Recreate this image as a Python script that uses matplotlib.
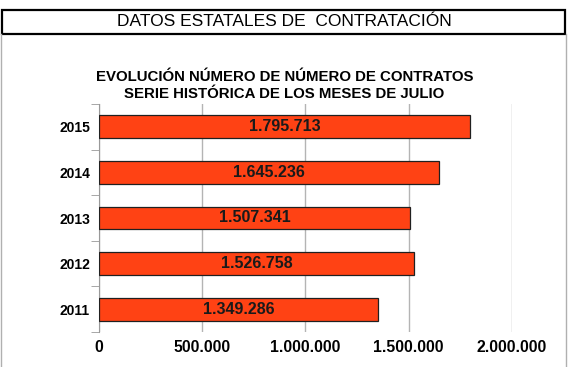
import numpy as np
import matplotlib.pyplot as plt
from matplotlib.patches import Rectangle
from matplotlib.lines import Line2D

# data
years = ["2011", "2012", "2013", "2014", "2015"]
contratos = [1349286, 1526758, 1507341, 1645236, 1795713]
xticks = [0, 500000, 1000000, 1500000, 2000000]


def fmt(v):
    return "{:,}".format(v).replace(",", ".")


fig = plt.figure(figsize=(5.69, 3.67), dpi=100)
W, H = 569., 367.

# header box
fig.patches.append(Rectangle((2 / W, 1 - 34 / H), 563 / W, 24 / H, transform=fig.transFigure,
                             fill=False, edgecolor="black", linewidth=1.6))
fig.text(0.5, 1 - 22 / H, "DATOS ESTATALES DE  CONTRATACIÓN", ha="center", va="center",
         fontsize=12.5, family="Liberation Sans")
# side borders
for x in (0.8 / W, 566 / W):
    fig.lines.append(Line2D([x, x], [0, 1 - 34 / H], transform=fig.transFigure,
                            color="#b0b0b0", linewidth=1))

fig.text(0.5, 1 - 77 / H, "EVOLUCIÓN NÚMERO DE NÚMERO DE CONTRATOS", ha="center", va="center",
         fontsize=10.8, fontweight="bold", family="Liberation Sans")
fig.text(0.5, 1 - 94 / H, "SERIE HISTÓRICA DE LOS MESES DE JULIO", ha="center", va="center",
         fontsize=10.8, fontweight="bold", family="Liberation Sans")

ax = fig.add_axes([99 / W, 35 / H, 413 / W, 228 / H])
y = np.arange(len(years))
ax.barh(y, contratos, height=0.5, color="#ff4214", edgecolor="#202020", linewidth=0.9, zorder=3)
for yi, v in zip(y, contratos):
    ax.text(v / 2, yi, fmt(v), ha="center", va="center", fontsize=11.5, fontweight="bold",
            color="#1a1a1a", family="Liberation Sans", zorder=4)

ax.set_xlim(0, 2000000)
ax.set_ylim(-0.5, len(years) - 0.5)
ax.set_xticks(xticks)
ax.set_xticklabels([fmt(v) for v in xticks], fontsize=11.3, fontweight="bold", family="Liberation Sans")
ax.set_yticks(y)
ax.set_yticklabels(years, fontsize=10, fontweight="bold", family="Liberation Sans")
ax.set_yticks(np.arange(-0.5, len(years)), minor=True)
ax.tick_params(axis="y", which="major", length=0, pad=6.5)
ax.tick_params(axis="y", which="minor", length=6, color="#999999", direction="out")
ax.tick_params(axis="x", length=0, pad=6)
ax.grid(axis="x", color="#b4b4b4", linewidth=1, zorder=0)
for s in ("top", "right", "bottom"):
    ax.spines[s].set_visible(False)
ax.spines["left"].set_color("#999999")

fig.savefig("out.png", dpi=100)
